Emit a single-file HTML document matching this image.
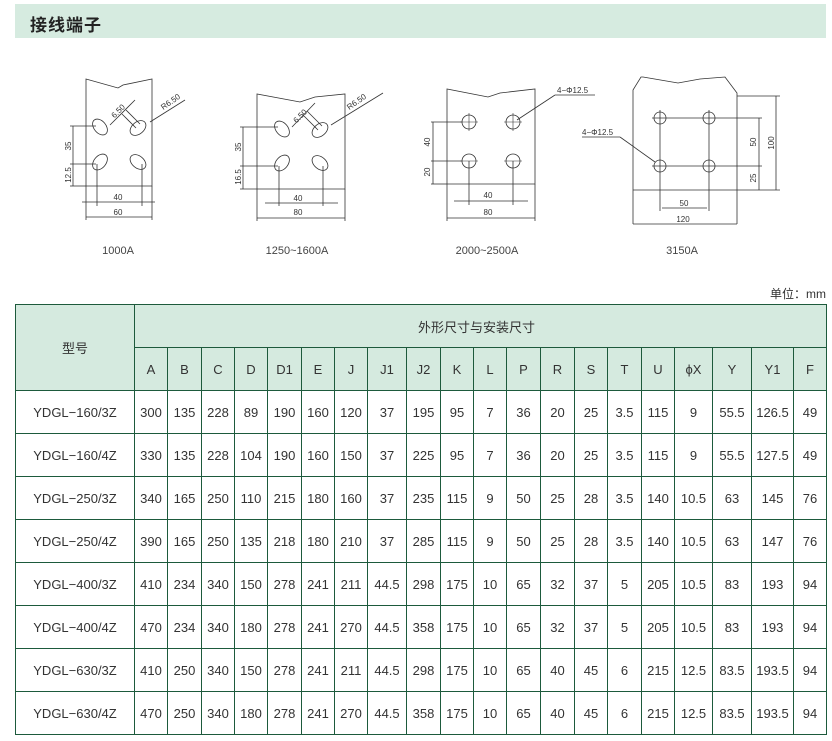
<!DOCTYPE html>
<html><head><meta charset="utf-8"><style>
body{margin:0;width:832px;height:741px;background:#fff;position:relative;overflow:hidden;font-family:"Liberation Sans","Noto Sans CJK SC",sans-serif;}
.title{position:absolute;left:15px;top:4px;width:811px;height:34px;background:#d6ebe0;}
.title span{position:absolute;left:15px;top:7px;font-size:17px;font-weight:bold;color:#222;letter-spacing:1px;}
svg{position:absolute;left:0;top:0;}
.unit{position:absolute;right:6px;top:285px;font-size:12px;color:#333;}
table{position:absolute;left:15px;top:304px;border-collapse:collapse;table-layout:fixed;}
td{border:1.5px solid #1d5a3c;text-align:center;font-size:13px;color:#333;padding:0;height:42px;white-space:nowrap;overflow:hidden;}
.h td{background:#d5eadf;}
</style></head><body>
<div class="title"><span>接线端子</span></div>
<svg width="832" height="280" viewBox="0 0 832 280" font-family="Liberation Sans, sans-serif" font-size="8" fill="#333">
<g stroke="#333" stroke-width="0.8" fill="none">
<polyline points="86,186 86,79 118,88 123,85 152,79 152,186 86,186"/>
<ellipse cx="100" cy="127" rx="9" ry="6" transform="rotate(50 100 127)"/>
<ellipse cx="138" cy="128" rx="9" ry="6" transform="rotate(-40 138 128)"/>
<ellipse cx="100" cy="162" rx="9" ry="6" transform="rotate(-50 100 162)"/>
<ellipse cx="138" cy="162" rx="9" ry="6" transform="rotate(40 138 162)"/>
<line x1="70" y1="126" x2="96" y2="126"/><line x1="70" y1="164" x2="96" y2="164"/><line x1="70" y1="186" x2="86" y2="186"/>
<line x1="73" y1="126" x2="73" y2="186"/>
<line x1="97" y1="164" x2="97" y2="206"/><line x1="142" y1="164" x2="142" y2="206"/>
<line x1="82" y1="202" x2="155" y2="202"/>
<line x1="86" y1="186" x2="86" y2="220"/><line x1="152" y1="186" x2="152" y2="220"/>
<line x1="86" y1="217" x2="152" y2="217"/>
<line x1="110" y1="125" x2="135" y2="100"/><line x1="122" y1="114" x2="136" y2="128"/><line x1="126" y1="110" x2="140" y2="124"/>
<line x1="150" y1="122" x2="185" y2="100"/>
<polyline points="257,189 257,94 300,102 315,97 345,94 345,189 257,189"/>
<ellipse cx="282" cy="129" rx="9" ry="6" transform="rotate(50 282 129)"/>
<ellipse cx="320" cy="130" rx="9" ry="6" transform="rotate(-40 320 130)"/>
<ellipse cx="282" cy="163" rx="9" ry="6" transform="rotate(-50 282 163)"/>
<ellipse cx="320" cy="163" rx="9" ry="6" transform="rotate(40 320 163)"/>
<line x1="240" y1="127" x2="278" y2="127"/><line x1="240" y1="166" x2="278" y2="166"/>
<line x1="243" y1="127" x2="243" y2="189"/><line x1="240" y1="189" x2="257" y2="189"/>
<line x1="279" y1="166" x2="279" y2="206"/><line x1="323" y1="166" x2="323" y2="206"/>
<line x1="265" y1="203" x2="338" y2="203"/>
<line x1="257" y1="189" x2="257" y2="221"/><line x1="345" y1="189" x2="345" y2="221"/>
<line x1="257" y1="218" x2="345" y2="218"/>
<line x1="292" y1="127" x2="315" y2="103"/><line x1="303" y1="115" x2="318" y2="130"/><line x1="307" y1="111" x2="322" y2="126"/>
<line x1="331" y1="125" x2="383" y2="93"/>
<polyline points="447,184 447,89 488,97 500,93 535,89 535,184 447,184"/>
<circle cx="469" cy="122" r="7"/><circle cx="513" cy="122" r="7"/><circle cx="469" cy="161" r="7"/><circle cx="513" cy="161" r="7"/>
<g stroke-width="0.6">
<line x1="460" y1="122" x2="478" y2="122"/><line x1="469" y1="113" x2="469" y2="131"/>
<line x1="504" y1="122" x2="522" y2="122"/><line x1="513" y1="113" x2="513" y2="131"/>
<line x1="460" y1="161" x2="478" y2="161"/><line x1="504" y1="161" x2="522" y2="161"/>
</g>
<line x1="431" y1="122" x2="462" y2="122"/><line x1="431" y1="161" x2="462" y2="161"/><line x1="431" y1="184" x2="447" y2="184"/>
<line x1="433" y1="122" x2="433" y2="184"/>
<line x1="469" y1="161" x2="469" y2="205"/><line x1="513" y1="161" x2="513" y2="205"/>
<line x1="454" y1="201" x2="528" y2="201"/>
<line x1="447" y1="184" x2="447" y2="221"/><line x1="535" y1="184" x2="535" y2="221"/>
<line x1="447" y1="218" x2="535" y2="218"/>
<line x1="555" y1="95" x2="595" y2="95"/><line x1="555" y1="95" x2="517" y2="120"/>
<polyline points="633,224 633,90 641,77 643,77 678,83 700,79 725,77 737,93 737,224"/>
<line x1="633" y1="190" x2="780" y2="190"/>
<circle cx="660" cy="118" r="6"/><circle cx="709" cy="118" r="6"/><circle cx="660" cy="166" r="6"/><circle cx="709" cy="166" r="6"/>
<line x1="652" y1="118" x2="762" y2="118"/><line x1="652" y1="166" x2="762" y2="166"/>
<line x1="660" y1="110" x2="660" y2="211"/><line x1="709" y1="110" x2="709" y2="211"/>
<line x1="737" y1="96" x2="780" y2="96"/>
<line x1="759" y1="118" x2="759" y2="190"/>
<line x1="776" y1="96" x2="776" y2="190"/>
<line x1="662" y1="208" x2="707" y2="208"/>
<line x1="633" y1="224" x2="737" y2="224"/>
<line x1="582" y1="137" x2="620" y2="137"/><line x1="620" y1="137" x2="655" y2="162"/>
</g>
<g font-size="8" fill="#333">
<text x="118" y="200" text-anchor="middle">40</text><text x="118" y="215" text-anchor="middle">60</text>
<text transform="translate(71,146) rotate(-90)" text-anchor="middle">35</text>
<text transform="translate(71,175) rotate(-90)" text-anchor="middle">12.5</text>
<text transform="translate(120,113) rotate(-45)" text-anchor="middle">6.50</text>
<text transform="translate(172,104) rotate(-35)" text-anchor="middle">R6.50</text>
<text x="298" y="201" text-anchor="middle">40</text><text x="298" y="215" text-anchor="middle">80</text>
<text transform="translate(241,147) rotate(-90)" text-anchor="middle">35</text>
<text transform="translate(241,177) rotate(-90)" text-anchor="middle">16.5</text>
<text transform="translate(302,118) rotate(-45)" text-anchor="middle">6.50</text>
<text transform="translate(358,104) rotate(-35)" text-anchor="middle">R6.50</text>
<text x="488" y="198" text-anchor="middle">40</text><text x="488" y="215" text-anchor="middle">80</text>
<text transform="translate(430,142) rotate(-90)" text-anchor="middle">40</text>
<text transform="translate(430,172) rotate(-90)" text-anchor="middle">20</text>
<text x="557" y="93">4−Φ12.5</text>
<text x="582" y="135">4−Φ12.5</text>
<text x="684" y="206" text-anchor="middle">50</text><text x="683" y="222" text-anchor="middle">120</text>
<text transform="translate(756,142) rotate(-90)" text-anchor="middle">50</text>
<text transform="translate(756,178) rotate(-90)" text-anchor="middle">25</text>
<text transform="translate(774,143) rotate(-90)" text-anchor="middle">100</text>
</g>
<g font-size="11" fill="#444" text-anchor="middle">
<text x="118" y="254">1000A</text><text x="297" y="254">1250~1600A</text><text x="487" y="254">2000~2500A</text><text x="682" y="254">3150A</text>
</g>
</svg>
<div class="unit">单位：mm</div>
<table>
<colgroup><col style="width:119px"><col style="width:33px"><col style="width:34px"><col style="width:33px"><col style="width:33px"><col style="width:34px"><col style="width:33px"><col style="width:33px"><col style="width:39px"><col style="width:34px"><col style="width:33px"><col style="width:33px"><col style="width:34px"><col style="width:34px"><col style="width:33px"><col style="width:34px"><col style="width:33px"><col style="width:38px"><col style="width:39px"><col style="width:42px"><col style="width:33px"></colgroup>
<tr class="h"><td rowspan="2">型号</td><td colspan="20" style="text-align:left;padding-left:283px">外形尺寸与安装尺寸</td></tr>
<tr class="h"><td>A</td><td>B</td><td>C</td><td>D</td><td>D1</td><td>E</td><td>J</td><td>J1</td><td>J2</td><td>K</td><td>L</td><td>P</td><td>R</td><td>S</td><td>T</td><td>U</td><td>ϕX</td><td>Y</td><td>Y1</td><td>F</td></tr>
<tr><td>YDGL−160/3Z</td><td>300</td><td>135</td><td>228</td><td>89</td><td>190</td><td>160</td><td>120</td><td>37</td><td>195</td><td>95</td><td>7</td><td>36</td><td>20</td><td>25</td><td>3.5</td><td>115</td><td>9</td><td>55.5</td><td>126.5</td><td>49</td></tr>
<tr><td>YDGL−160/4Z</td><td>330</td><td>135</td><td>228</td><td>104</td><td>190</td><td>160</td><td>150</td><td>37</td><td>225</td><td>95</td><td>7</td><td>36</td><td>20</td><td>25</td><td>3.5</td><td>115</td><td>9</td><td>55.5</td><td>127.5</td><td>49</td></tr>
<tr><td>YDGL−250/3Z</td><td>340</td><td>165</td><td>250</td><td>110</td><td>215</td><td>180</td><td>160</td><td>37</td><td>235</td><td>115</td><td>9</td><td>50</td><td>25</td><td>28</td><td>3.5</td><td>140</td><td>10.5</td><td>63</td><td>145</td><td>76</td></tr>
<tr><td>YDGL−250/4Z</td><td>390</td><td>165</td><td>250</td><td>135</td><td>218</td><td>180</td><td>210</td><td>37</td><td>285</td><td>115</td><td>9</td><td>50</td><td>25</td><td>28</td><td>3.5</td><td>140</td><td>10.5</td><td>63</td><td>147</td><td>76</td></tr>
<tr><td>YDGL−400/3Z</td><td>410</td><td>234</td><td>340</td><td>150</td><td>278</td><td>241</td><td>211</td><td>44.5</td><td>298</td><td>175</td><td>10</td><td>65</td><td>32</td><td>37</td><td>5</td><td>205</td><td>10.5</td><td>83</td><td>193</td><td>94</td></tr>
<tr><td>YDGL−400/4Z</td><td>470</td><td>234</td><td>340</td><td>180</td><td>278</td><td>241</td><td>270</td><td>44.5</td><td>358</td><td>175</td><td>10</td><td>65</td><td>32</td><td>37</td><td>5</td><td>205</td><td>10.5</td><td>83</td><td>193</td><td>94</td></tr>
<tr><td>YDGL−630/3Z</td><td>410</td><td>250</td><td>340</td><td>150</td><td>278</td><td>241</td><td>211</td><td>44.5</td><td>298</td><td>175</td><td>10</td><td>65</td><td>40</td><td>45</td><td>6</td><td>215</td><td>12.5</td><td>83.5</td><td>193.5</td><td>94</td></tr>
<tr><td>YDGL−630/4Z</td><td>470</td><td>250</td><td>340</td><td>180</td><td>278</td><td>241</td><td>270</td><td>44.5</td><td>358</td><td>175</td><td>10</td><td>65</td><td>40</td><td>45</td><td>6</td><td>215</td><td>12.5</td><td>83.5</td><td>193.5</td><td>94</td></tr>
</table>
</body></html>
